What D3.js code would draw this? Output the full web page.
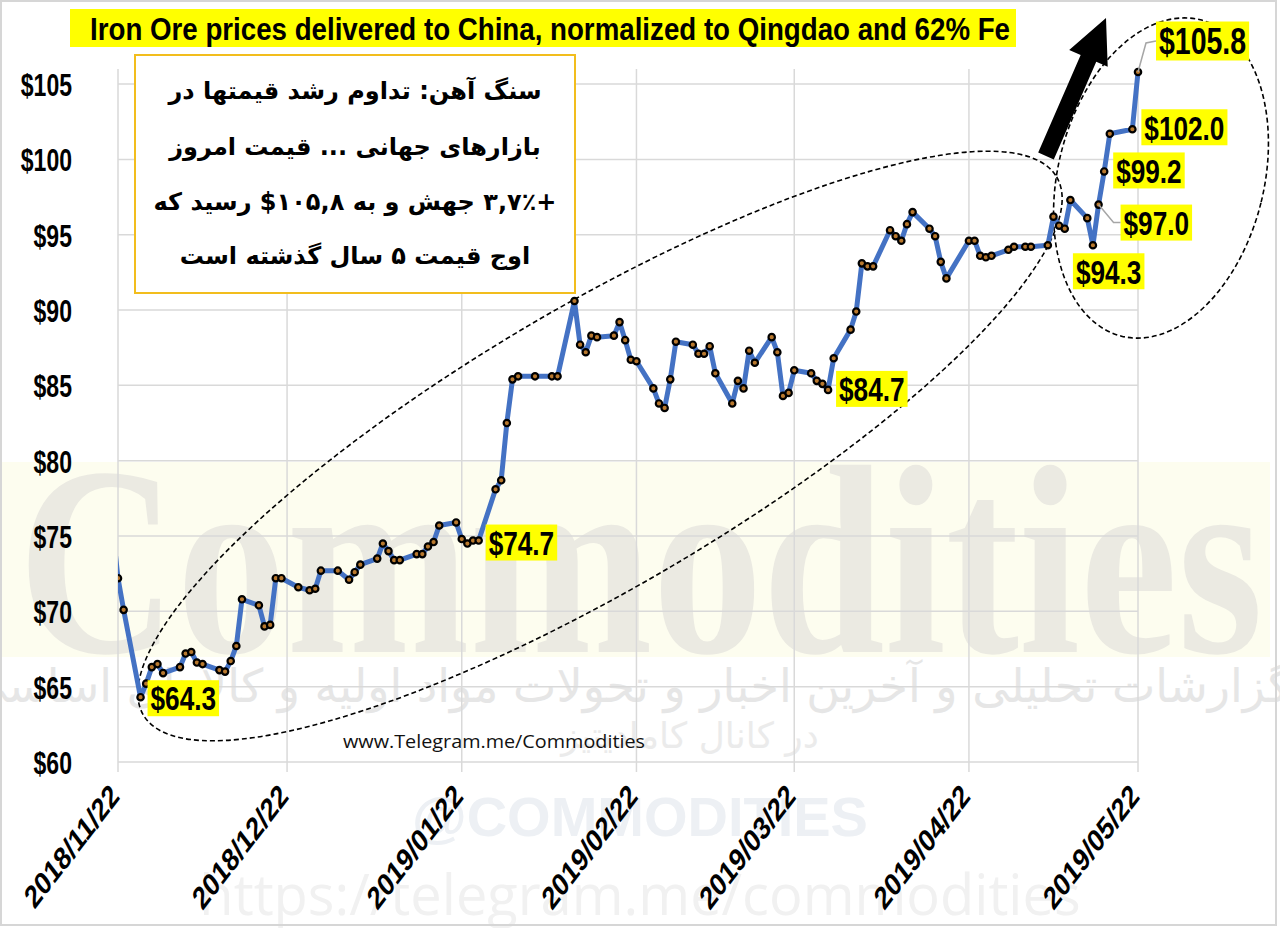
<!DOCTYPE html>
<html>
<head>
<meta charset="utf-8">
<script src="https://cdn.jsdelivr.net/npm/d3@7"></script>
<style>
  body { margin: 0; background: #fff; }
  svg { display: block; }
</style>
</head>
<body>
<svg id="chart" width="1280" height="928"></svg>
<script>
// iron ore 62% Fe CFR Qingdao, daily
const dates = [
  '2018-11-21', '2018-11-22', '2018-11-23', '2018-11-26', '2018-11-27', '2018-11-28', '2018-11-29', '2018-11-30',
  '2018-12-03', '2018-12-04', '2018-12-05', '2018-12-06', '2018-12-07', '2018-12-10', '2018-12-11', '2018-12-12',
  '2018-12-13', '2018-12-14', '2018-12-17', '2018-12-18', '2018-12-19', '2018-12-20', '2018-12-21', '2018-12-24',
  '2018-12-26', '2018-12-27', '2018-12-28', '2018-12-31', '2019-01-02', '2019-01-03', '2019-01-04', '2019-01-07',
  '2019-01-08', '2019-01-09', '2019-01-10', '2019-01-11', '2019-01-14', '2019-01-15', '2019-01-16', '2019-01-17',
  '2019-01-18', '2019-01-21', '2019-01-22', '2019-01-23', '2019-01-24', '2019-01-25', '2019-01-28', '2019-01-29',
  '2019-01-30', '2019-01-31', '2019-02-01', '2019-02-04', '2019-02-07', '2019-02-08', '2019-02-11', '2019-02-12',
  '2019-02-13', '2019-02-14', '2019-02-15', '2019-02-18', '2019-02-19', '2019-02-20', '2019-02-21', '2019-02-22',
  '2019-02-25', '2019-02-26', '2019-02-27', '2019-02-28', '2019-03-01', '2019-03-04', '2019-03-05', '2019-03-06',
  '2019-03-07', '2019-03-08', '2019-03-11', '2019-03-12', '2019-03-13', '2019-03-14', '2019-03-15', '2019-03-18',
  '2019-03-19', '2019-03-20', '2019-03-21', '2019-03-22', '2019-03-25', '2019-03-26', '2019-03-27', '2019-03-28',
  '2019-03-29', '2019-04-01', '2019-04-02', '2019-04-03', '2019-04-04', '2019-04-05', '2019-04-08', '2019-04-09',
  '2019-04-10', '2019-04-11', '2019-04-12', '2019-04-15', '2019-04-16', '2019-04-17', '2019-04-18', '2019-04-22',
  '2019-04-23', '2019-04-24', '2019-04-25', '2019-04-26', '2019-04-29', '2019-04-30', '2019-05-02', '2019-05-03',
  '2019-05-06', '2019-05-07', '2019-05-08', '2019-05-09', '2019-05-10', '2019-05-13', '2019-05-14', '2019-05-15',
  '2019-05-16', '2019-05-17', '2019-05-21', '2019-05-22'
];
const prices = [
  75.6, 72.2, 70.1, 64.3, 65.2, 66.3, 66.5, 65.9,
  66.3, 67.2, 67.3, 66.6, 66.5, 66.1, 66.0, 66.7,
  67.7, 70.8, 70.4, 69.0, 69.1, 72.2, 72.2, 71.6,
  71.4, 71.5, 72.7, 72.7, 72.1, 72.6, 73.1, 73.5,
  74.5, 74.0, 73.4, 73.4, 73.8, 73.8, 74.3, 74.6,
  75.7, 75.9, 74.8, 74.5, 74.7, 74.7, 78.1, 78.7,
  82.5, 85.4, 85.6, 85.6, 85.6, 85.6, 90.6, 87.7,
  87.2, 88.3, 88.2, 88.3, 89.2, 88.0, 86.7, 86.6,
  84.8, 83.8, 83.5, 85.4, 87.9, 87.7, 87.1, 87.1,
  87.6, 85.8, 83.8, 85.3, 84.8, 87.3, 86.5, 88.2,
  87.2, 84.3, 84.5, 86.0, 85.8, 85.3, 85.1, 84.7,
  86.8, 88.7, 89.9, 93.1, 92.9, 92.9, 95.3, 94.9,
  94.6, 95.7, 96.5, 95.4, 94.9, 93.2, 92.1, 94.6,
  94.6, 93.6, 93.5, 93.6, 94.0, 94.2, 94.2, 94.2,
  94.3, 96.2, 95.6, 95.4, 97.3, 96.1, 94.3, 97.0,
  99.2, 101.7, 102.0, 105.8
];
const yTicks = [60, 65, 70, 75, 80, 85, 90, 95, 100, 105];
const xTicks = ['2018-11-22', '2018-12-22', '2019-01-22', '2019-02-22', '2019-03-22', '2019-04-22', '2019-05-22'];
const labelDates = ['2018-11-26', '2019-01-25', '2019-03-28', '2019-05-14', '2019-05-15', '2019-05-16', '2019-05-21', '2019-05-22'];

const title = 'Iron Ore prices delivered to China, normalized to Qingdao and 62% Fe';
const noteLines = [
  'سنگ آهن: تداوم رشد قیمتها در',
  'بازارهای جهانی ... قیمت امروز',
  '+۳,۷٪ جهش و به ۱۰۵,۸$ رسید که',
  'اوج قیمت ۵ سال گذشته است'
];
const sourceText = 'www.Telegram.me/Commodities';

// label placement relative to its point (box left / centre)
const labelLayout = [
  { dx: 7, dy: 1, size: 34 },
  { dx: 7, dy: 2, size: 34 },
  { dx: 8, dy: -1, size: 34 },
  { dx: -20, dy: 26, size: 34 },
  { dx: 22, dy: 18, size: 34, leader: [[15, 18]] },
  { dx: 9, dy: -1, size: 34 },
  { dx: 9, dy: -2, size: 34 },
  { dx: 18, dy: -31, size: 37, leader: [[8, -29]] }
];

const parse = d3.timeParse('%Y-%m-%d');
const data = dates.map((d, i) => ({ date: parse(d), value: prices[i] }));
const SX = 0.77; // horizontal squeeze of the original picture

const svg = d3.select('#chart');
const W = 1280, H = 928;

const x = d3.scaleTime()
  .domain([parse('2018-11-22'), parse('2019-05-22')])
  .range([118, 1138]);
const y = d3.scaleLinear().domain([60, 106]).range([762, 69]);

// background + watermark
svg.append('rect').attr('width', W).attr('height', H).attr('fill', '#fff');
svg.append('rect').attr('x', 0).attr('y', 462).attr('width', 1270).attr('height', 195).attr('fill', '#fdfdef');
const wm = svg.append('g').attr('pointer-events', 'none');
wm.append('text')
  .attr('x', 18).attr('y', 652)
  .attr('font-family', '"Liberation Serif", serif').attr('font-weight', 'bold')
  .attr('font-size', 270).attr('fill', '#ebeae2')
  .attr('textLength', 1245).attr('lengthAdjust', 'spacingAndGlyphs')
  .text('Commodities');
wm.append('text')
  .attr('x', 630).attr('y', 702).attr('text-anchor', 'middle').attr('direction', 'rtl')
  .attr('font-family', '"DejaVu Sans", sans-serif').attr('font-size', 46).attr('fill', '#e6e6e6')
  .text('گزارشات تحلیلی و آخرین اخبار و تحولات مواد اولیه و کالاهای اساسی');
wm.append('text')
  .attr('x', 690).attr('y', 748).attr('text-anchor', 'middle').attr('direction', 'rtl')
  .attr('font-family', '"DejaVu Sans", sans-serif').attr('font-size', 36).attr('fill', '#ebebeb')
  .text('در کانال کامادیتیز');
wm.append('text')
  .attr('x', 640).attr('y', 836).attr('text-anchor', 'middle')
  .attr('font-family', '"Liberation Sans", Arial, sans-serif').attr('font-weight', 'bold')
  .attr('font-size', 56).attr('fill', '#edf0f4')
  .text('@COMMODITIES');
wm.append('text')
  .attr('x', 640).attr('y', 915).attr('text-anchor', 'middle')
  .attr('font-family', '"Open Sans", sans-serif').attr('font-size', 56).attr('fill', '#f1f1f1')
  .text('https://telegram.me/commodities');

// frame
svg.append('rect').attr('x', 1).attr('y', 1).attr('width', 1275).attr('height', 924)
  .attr('fill', 'none').attr('stroke', '#d6d6d6').attr('stroke-width', 2);

// grid
const grid = svg.append('g');
grid.selectAll('line.h').data(yTicks).enter().append('line')
  .attr('x1', x.range()[0]).attr('x2', x.range()[1])
  .attr('y1', d => y(d)).attr('y2', d => y(d))
  .attr('stroke', '#d9d9d9').attr('stroke-width', 1.5);
grid.selectAll('line.v').data(xTicks).enter().append('line')
  .attr('x1', d => x(parse(d))).attr('x2', d => x(parse(d)))
  .attr('y1', y(106)).attr('y2', y(60) + 10)
  .attr('stroke', '#d9d9d9').attr('stroke-width', 1.5);

// y axis labels
const yAxis = svg.append('g').attr('transform', 'translate(72,0)')
  .call(d3.axisLeft(y).tickValues(yTicks).tickSize(0).tickPadding(0).tickFormat(d => '$' + d));
yAxis.select('.domain').remove();
yAxis.selectAll('text')
  .attr('font-family', '"Liberation Sans", Arial, sans-serif').attr('font-weight', 'bold')
  .attr('font-size', 32).attr('fill', '#000').attr('dy', '0.36em')
  .attr('transform', 'scale(0.72,1)');

// x axis labels
const xAxis = svg.append('g').attr('transform', `translate(0,${y(60)})`)
  .call(d3.axisBottom(x).tickValues(xTicks.map(parse)).tickSize(0).tickFormat(d3.timeFormat('%Y/%m/%d')));
xAxis.select('.domain').remove();
xAxis.selectAll('.tick text')
  .attr('font-family', '"Liberation Sans", Arial, sans-serif').attr('font-weight', 'bold')
  .attr('font-size', 32).attr('fill', '#000')
  .attr('text-anchor', 'end').attr('x', 0).attr('y', 0).attr('dy', '0.35em')
  .attr('transform', `translate(-4,28) scale(${SX},1) rotate(-45)`);

// title
const tg = svg.append('g');
tg.append('text')
  .attr('x', 90).attr('y', 40)
  .attr('font-family', '"Liberation Sans", Arial, sans-serif').attr('font-weight', 'bold')
  .attr('font-size', 32).attr('fill', '#000')
  .attr('textLength', 920).attr('lengthAdjust', 'spacingAndGlyphs')
  .text(title);
tg.insert('rect', 'text').attr('x', 70).attr('y', 9).attr('width', 946).attr('height', 38).attr('fill', '#ffff00');

// note box
const note = svg.append('g');
note.append('rect').attr('x', 135).attr('y', 55).attr('width', 440).attr('height', 238)
  .attr('fill', '#fff').attr('stroke', '#f2bd1d').attr('stroke-width', 2);
note.selectAll('text').data(noteLines).enter().append('text')
  .attr('x', 355).attr('y', (d, i) => [99, 155, 210, 264][i])
  .attr('text-anchor', 'middle').attr('direction', 'rtl')
  .attr('font-family', '"DejaVu Sans", sans-serif').attr('font-weight', 'bold')
  .attr('font-size', 24).attr('fill', '#000')
  .text(d => d);

// source
svg.append('text')
  .attr('x', 343).attr('y', 748)
  .attr('font-family', '"Open Sans", sans-serif').attr('font-size', 19).attr('fill', '#111')
  .attr('textLength', 302).attr('lengthAdjust', 'spacingAndGlyphs')
  .text(sourceText);

// ellipses
svg.append('ellipse').attr('cx', 0).attr('cy', 0).attr('rx', 530).attr('ry', 140)
  .attr('transform', 'translate(600,446) rotate(-30.5)')
  .attr('fill', 'none').attr('stroke', '#000').attr('stroke-width', 1.6).attr('stroke-dasharray', '5,3');
svg.append('ellipse').attr('cx', 0).attr('cy', 0).attr('rx', 103).attr('ry', 163)
  .attr('transform', 'translate(1161,178) rotate(14)')
  .attr('fill', 'none').attr('stroke', '#000').attr('stroke-width', 1.6).attr('stroke-dasharray', '5,3');

// arrow
(function () {
  const x0 = 1046, y0 = 156, x1 = 1106, y1 = 18;
  const len = Math.hypot(x1 - x0, y1 - y0);
  const ux = (x1 - x0) / len, uy = (y1 - y0) / len;
  const px = -uy, py = ux;
  const sw = 8.5, hw = 21, hl = 44;
  const bx = x1 - ux * hl, by = y1 - uy * hl;
  const pts = [
    [x0 + px * sw, y0 + py * sw], [bx + px * sw, by + py * sw], [bx + px * hw, by + py * hw],
    [x1, y1],
    [bx - px * hw, by - py * hw], [bx - px * sw, by - py * sw], [x0 - px * sw, y0 - py * sw]
  ];
  svg.append('polygon').attr('points', pts.map(p => p.join(',')).join(' ')).attr('fill', '#000');
})();

// price line
svg.append('clipPath').attr('id', 'plot').append('rect')
  .attr('x', x.range()[0]).attr('y', 0).attr('width', x.range()[1] - x.range()[0] + 10).attr('height', H);
const plot = svg.append('g').attr('clip-path', 'url(#plot)');
plot.append('path').datum(data)
  .attr('d', d3.line().x(d => x(d.date)).y(d => y(d.value)))
  .attr('fill', 'none').attr('stroke', '#4472c4').attr('stroke-width', 5).attr('stroke-linejoin', 'round');
plot.selectAll('circle').data(data.filter(d => d.date >= x.domain()[0])).enter().append('circle')
  .attr('cx', d => x(d.date)).attr('cy', d => y(d.value)).attr('r', 3.2)
  .attr('fill', '#b8782e').attr('stroke', '#000').attr('stroke-width', 2.2);

// value labels
const byDate = new Map(data.map(d => [+d.date, d]));
const lab = svg.append('g');
labelDates.forEach((ds, i) => {
  const d = byDate.get(+parse(ds));
  const L = labelLayout[i];
  const px = x(d.date), py = y(d.value);
  const g = lab.append('g');
  const t = g.append('text')
    .attr('font-family', '"Liberation Sans", Arial, sans-serif').attr('font-weight', 'bold')
    .attr('font-size', L.size).attr('fill', '#000')
    .text('$' + d.value.toFixed(1));
  const tw = t.node().getComputedTextLength() * SX;
  const bw = tw + 6, bh = L.size + 2;
  const left = px + L.dx, cy = py + L.dy;
  t.attr('transform', `translate(${left + 3},${cy + L.size * 0.36}) scale(${SX},1)`);
  g.insert('rect', 'text').attr('x', left).attr('y', cy - bh / 2).attr('width', bw).attr('height', bh).attr('fill', '#ffff00');
  if (L.leader) {
    const pts = [[px, py]].concat(L.leader.map(o => [px + o[0], py + o[1]])).concat([[left, cy]]);
    lab.append('path').attr('d', d3.line()(pts)).attr('fill', 'none').attr('stroke', '#a6a6a6').attr('stroke-width', 1.5);
  }
});
</script>
</body>
</html>
